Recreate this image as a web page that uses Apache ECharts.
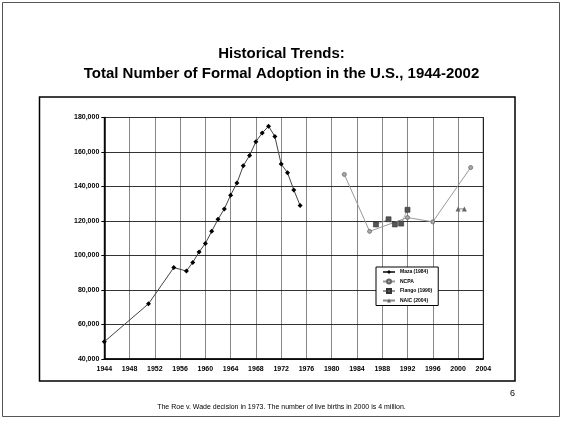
<!DOCTYPE html>
<html>
<head>
<meta charset="utf-8">
<script src="https://cdn.jsdelivr.net/npm/echarts@6/dist/echarts.min.js"></script>
<style>
  html, body { margin: 0; padding: 0; background: #fff; }
  #chart { width: 563px; height: 422px; }
</style>
</head>
<body>
<div id="chart"></div>
<script>
// Maza (1984)
const mazaYears = [1944, 1951, 1955, 1957, 1958, 1959, 1960, 1961, 1962, 1963, 1964,
  1965, 1966, 1967, 1968, 1969, 1970, 1971, 1972, 1973, 1974, 1975];
const mazaValues = [50000, 72000, 93000, 91000, 96000, 102000, 107000, 114000, 121000, 127000, 135000,
  142000, 152000, 158000, 166000, 171000, 175000, 169000, 153000, 148000, 138000, 129000];

// NCPA
const ncpaYears = [1982, 1986, 1992, 1996, 2002];
const ncpaValues = [147000, 114000, 122000, 119500, 151000];

// Flango (1990)
const flangoYears = [1987, 1989, 1990, 1991, 1992];
const flangoValues = [118000, 121000, 118000, 118500, 126500];

// NAIC (2004)
const naicYears = [2000, 2001];
const naicValues = [127000, 127000];

const pairs = (xs, ys) => xs.map((x, i) => [x, ys[i]]);

const chart = echarts.init(document.getElementById('chart'));

const font = '"Liberation Sans", Arial, sans-serif';

chart.setOption({
  animation: false,
  backgroundColor: '#fff',
  textStyle: { fontFamily: font },
  grid: {
    left: 104.3, right: 79.7, top: 117.5, bottom: 63,
    show: true, borderColor: '#000', borderWidth: 1
  },
  xAxis: {
    type: 'value', min: 1944, max: 2004, interval: 4,
    axisLine: { lineStyle: { color: '#000', width: 1.5 } },
    axisTick: { show: false },
    axisLabel: {
      fontSize: 7, fontWeight: 'bold', color: '#000', margin: 7, fontFamily: font,
      formatter: v => String(v)
    },
    splitLine: { show: true, lineStyle: { type: 'dotted', color: '#111', width: 1 } }
  },
  yAxis: {
    type: 'value', min: 40000, max: 180000, interval: 20000,
    axisLine: { show: true, lineStyle: { color: '#000', width: 1.5 } },
    axisTick: { show: true, inside: false, length: 3, lineStyle: { color: '#000' } },
    axisLabel: {
      fontSize: 7, fontWeight: 'bold', color: '#000', margin: 5, fontFamily: font,
      formatter: v => v.toLocaleString('en-US')
    },
    splitLine: { show: true, lineStyle: { color: '#333', width: 1 } }
  },
  legend: {
    orient: 'vertical',
    left: 376, top: 267,
    padding: [2, 6, 2, 6],
    itemGap: 3.5,
    itemWidth: 12, itemHeight: 5,
    itemTextGap: 2,
    backgroundColor: '#fff',
    borderColor: '#000', borderWidth: 1,
    textStyle: { fontSize: 5, fontWeight: 'bold', color: '#000', lineHeight: 6, fontFamily: font },
    data: ['Maza (1984)', 'NCPA', 'Flango (1990)', 'NAIC (2004)']
  },
  series: [
    {
      name: 'Maza (1984)', type: 'line', data: pairs(mazaYears, mazaValues),
      symbol: 'diamond', symbolSize: 5,
      lineStyle: { color: '#444', width: 1 },
      itemStyle: { color: '#000' }
    },
    {
      name: 'NCPA', type: 'line', data: pairs(ncpaYears, ncpaValues),
      symbol: 'circle', symbolSize: 4,
      lineStyle: { color: '#999', width: 1 },
      itemStyle: { color: '#aaa', borderColor: '#666', borderWidth: 0.8 }
    },
    {
      name: 'Flango (1990)', type: 'line', data: pairs(flangoYears, flangoValues),
      symbol: 'rect', symbolSize: 5,
      lineStyle: { color: '#999', width: 0.8 },
      itemStyle: { color: '#555', borderColor: '#333', borderWidth: 0.6 }
    },
    {
      name: 'NAIC (2004)', type: 'line', data: pairs(naicYears, naicValues),
      symbol: 'triangle', symbolSize: 5,
      lineStyle: { color: '#888', width: 1 },
      itemStyle: { color: '#666' }
    }
  ],
  graphic: [
    {
      type: 'rect', silent: true, z: -1,
      shape: { x: 2.5, y: 2.5, width: 557, height: 414 },
      style: { fill: 'none', stroke: '#555', lineWidth: 1 }
    },
    {
      type: 'rect', silent: true, z: -1,
      shape: { x: 39.5, y: 97, width: 475.5, height: 284 },
      style: { fill: 'none', stroke: '#000', lineWidth: 1.5 }
    },
    {
      type: 'text', x: 281.5, y: 54,
      style: {
        text: 'Historical Trends:', align: 'center', verticalAlign: 'middle',
        fontSize: 15, fontWeight: 'bold', fill: '#000', fontFamily: font
      }
    },
    {
      type: 'text', x: 281.5, y: 74,
      style: {
        text: 'Total Number of Formal Adoption in the U.S., 1944-2002', align: 'center', verticalAlign: 'middle',
        fontSize: 15, fontWeight: 'bold', fill: '#000', fontFamily: font
      }
    },
    {
      type: 'text', left: 510, top: 389,
      style: { text: '6', fontSize: 9, fill: '#000', fontFamily: font }
    },
    {
      type: 'text', left: 'center', top: 404,
      style: {
        text: 'The Roe v. Wade decision in 1973. The number of live births in 2000 is 4 million.',
        fontSize: 7, fill: '#000', fontFamily: font
      }
    }
  ]
});
</script>
</body>
</html>
